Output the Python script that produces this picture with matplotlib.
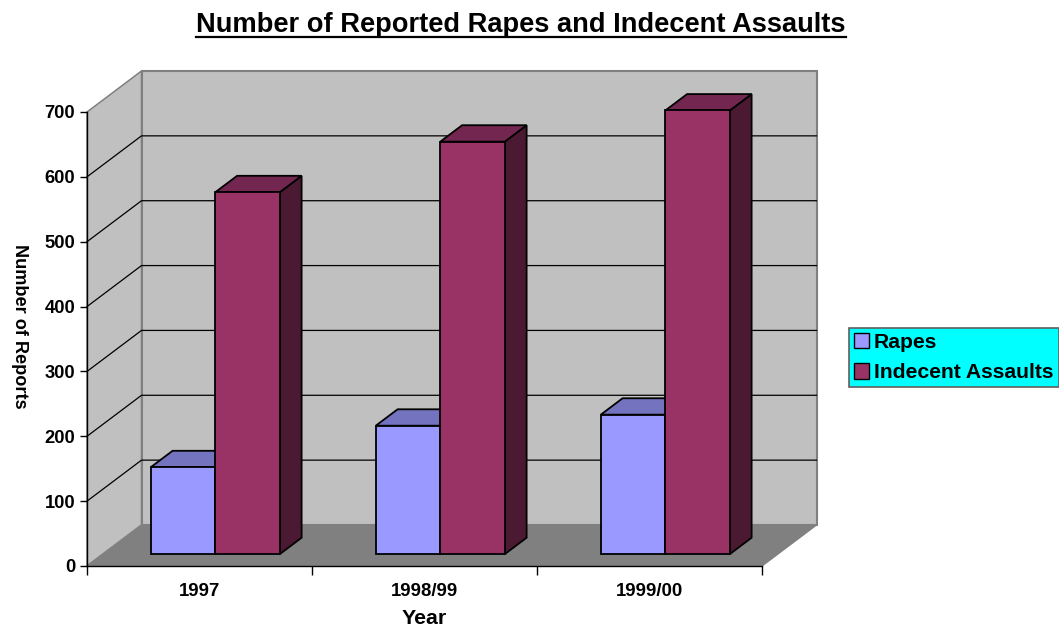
import matplotlib
matplotlib.use('Agg')
import matplotlib.pyplot as plt
from matplotlib.patches import Polygon, Patch
from matplotlib.lines import Line2D
import numpy as np

years = ['1997', '1998/99', '1999/00']
rapes = [134, 198, 215]
indecent = [558, 636, 684]
yticks = [0, 100, 200, 300, 400, 500, 600, 700]

RAPE_COLS = ('#9999FF', '#7373BF', '#4C4C80')
IND_COLS = ('#993366', '#732650', '#4C1933')

W, H = 1059, 628
X0, X1, Y0, Y700 = 87, 762, 566, 112
DEPTH = (54.5, 41)

plt.rcParams['font.family'] = ['Liberation Sans', 'DejaVu Sans']
plt.rcParams['font.weight'] = 'bold'

fig = plt.figure(figsize=(W / 100, H / 100), dpi=100)
ax = fig.add_axes([X0 / W, 1 - Y0 / H, (X1 - X0) / W, (Y0 - Y700) / H])
ax.set_xlim(-0.5, 2.5)
ax.set_ylim(0, 700)
ax.patch.set_visible(False)

# pixel sizes in data units, the depth axis is just an offset
px_x = 3 / (X1 - X0)
px_y = 700 / (Y0 - Y700)
dx = DEPTH[0] * px_x
dy = DEPTH[1] * px_y


def proj(x, y, d=0.0):
    return (x + d * dx, y + d * dy)


def poly(pts, fc, ec='black', lw=1.2, z=1):
    ax.add_patch(Polygon(pts, closed=True, facecolor=fc, edgecolor=ec, linewidth=lw,
                         zorder=z, clip_on=False, joinstyle='miter'))


def box(x, w, val, cols, z):
    d0, d1 = 0.29, 0.69
    poly([proj(x + w, 0, d0), proj(x + w, 0, d1), proj(x + w, val, d1), proj(x + w, val, d0)], cols[2], lw=1.3, z=z)
    poly([proj(x, val, d0), proj(x + w, val, d0), proj(x + w, val, d1), proj(x, val, d1)], cols[1], lw=1.3, z=z)
    poly([proj(x, 0, d0), proj(x + w, 0, d0), proj(x + w, val, d0), proj(x, val, d0)], cols[0], lw=1.3, z=z + 0.1)


# walls and floor
poly([proj(-0.5, 0), proj(-0.5, 0, 1), proj(-0.5, 700, 1), proj(-0.5, 700)], '#C0C0C0', ec='#808080', lw=1.1, z=1)
poly([proj(-0.5, 0, 1), proj(2.5, 0, 1), proj(2.5, 700, 1), proj(-0.5, 700, 1)], '#C0C0C0', ec='#808080', lw=1.5, z=1)
poly([proj(-0.5, 0), proj(2.5, 0), proj(2.5, 0, 1), proj(-0.5, 0, 1)], '#808080', ec='#808080', lw=1, z=1.5)

for v in yticks[1:-1]:
    ax.plot([-0.5, proj(-0.5, v, 1)[0], proj(2.5, v, 1)[0]], [v, proj(-0.5, v, 1)[1], proj(2.5, v, 1)[1]],
            color='black', lw=0.9, zorder=2, clip_on=False)

bar_w = 64.5 * px_x
for i in range(len(years)):
    box(i - bar_w, bar_w, rapes[i], RAPE_COLS, 3 + i)
    box(i, bar_w, indecent[i], IND_COLS, 3.5 + i)

for s in ['top', 'right']:
    ax.spines[s].set_visible(False)
for s in ['left', 'bottom']:
    ax.spines[s].set_linewidth(1.0)
    ax.spines[s].set_zorder(10)

ax.set_yticks(yticks)
ax.set_yticklabels([str(v) for v in yticks], fontsize=13.2, fontweight='bold')
ax.tick_params(axis='y', length=5.4, width=1, pad=3)
ax.set_xticks([-0.5, 0.5, 1.5, 2.5])
ax.set_xticklabels([])
ax.tick_params(axis='x', which='major', length=6.2, width=1)
ax.set_xticks([0, 1, 2], minor=True)
ax.set_xticklabels(years, minor=True, fontsize=13.4, fontweight='bold')
ax.tick_params(axis='x', which='minor', length=0, pad=12)

fig.text(424.5 / W, 1 - 624 / H, 'Year', ha='center', va='baseline', fontsize=15.3, fontweight='bold')
fig.text(19 / W, 1 - 326 / H, 'Number of Reports', ha='center', va='center', rotation=-90,
         fontsize=13.1, fontweight='bold')

fig.text(521 / W, 1 - 32.5 / H, 'Number of Reported Rapes and Indecent Assaults', ha='center', va='baseline',
         fontsize=19.6, fontweight='bold')
fig.add_artist(Line2D([196 / W, 846 / W], [1 - 36.5 / H, 1 - 36.5 / H], color='black', lw=1.6))

handles = [Patch(facecolor=RAPE_COLS[0], edgecolor='black', linewidth=1, label='Rapes'),
           Patch(facecolor=IND_COLS[0], edgecolor='black', linewidth=1, label='Indecent Assaults')]
leg = fig.legend(handles=handles, loc='lower left', bbox_to_anchor=(849 / W, 1 - 387 / H, 210 / W, 60 / H),
                 mode='expand', borderaxespad=0, fontsize=15.2, frameon=True, fancybox=False,
                 facecolor='#00FFFF', edgecolor='#606060', framealpha=1, handlelength=0.75,
                 handleheight=0.75, handletextpad=0.2, labelspacing=0.55, borderpad=0.22)
leg.get_frame().set_linewidth(1.2)

fig.savefig('out.png', dpi=100)
